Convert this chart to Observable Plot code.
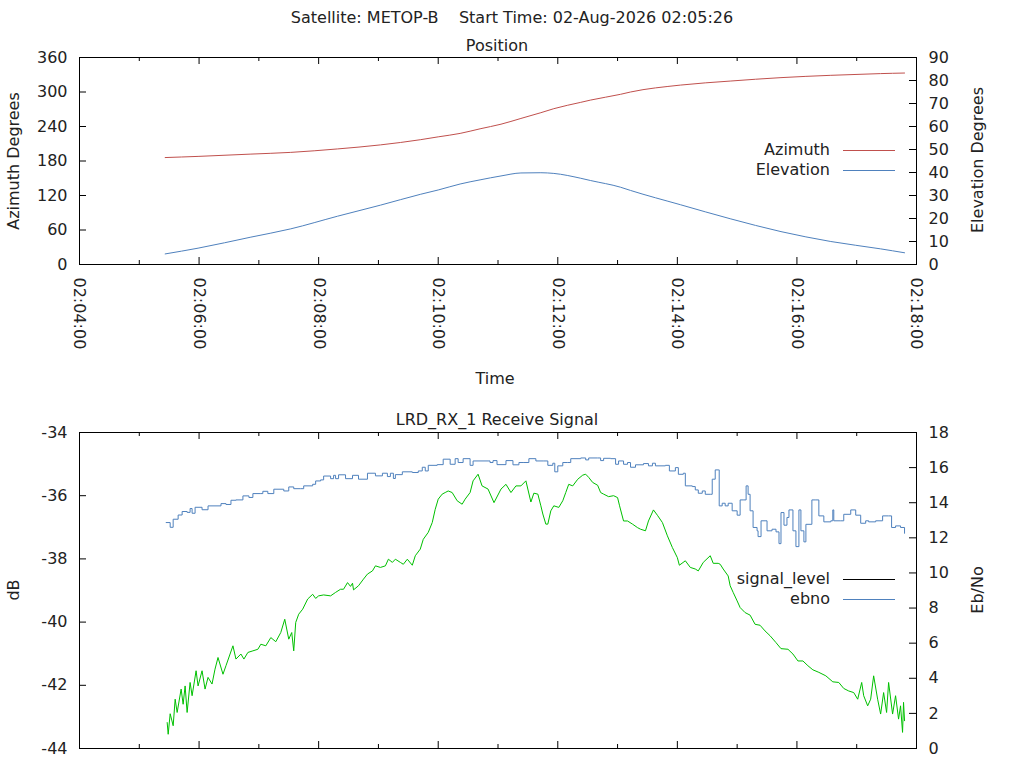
<!DOCTYPE html>
<html>
<head>
<meta charset="utf-8">
<script src="https://cdn.jsdelivr.net/npm/d3@7"></script>
<script src="https://cdn.jsdelivr.net/npm/@observablehq/plot@0.6"></script>
<style>
  body { margin: 0; background: #fff; }
  #wrap { position: relative; width: 1024px; height: 768px; overflow: hidden; background: #fff;
          font-family: "DejaVu Sans", sans-serif; color: #222; }
  #wrap svg { display: block; }
  .lbl { position: absolute; white-space: pre; font-size: 16px; line-height: 18px; }
  .legline { position: absolute; height: 1px; width: 52px; }
</style>
</head>
<body>
<div id="wrap"></div>
<script>
// ---------- data ----------
const mainTitle = "Satellite: METOP-B    Start Time: 02-Aug-2026 02:05:26";
const topTitle = "Position";
const bottomTitle = "LRD_RX_1 Receive Signal";

const timeLabels = ["02:04:00","02:06:00","02:08:00","02:10:00","02:12:00","02:14:00","02:16:00","02:18:00"];
const minorTimes = ["02:05:00","02:07:00","02:09:00","02:11:00","02:13:00","02:15:00","02:17:00"];
const azTicks = [0, 60, 120, 180, 240, 300, 360];
const elTicks = [0, 10, 20, 30, 40, 50, 60, 70, 80, 90];
const dbTicks = [-44, -42, -40, -38, -36, -34];
const ebnoTicks = [0, 2, 4, 6, 8, 10, 12, 14, 16, 18];

const posTime = ["02:05:26","02:05:59","02:06:52","02:07:32","02:08:19","02:09:02","02:09:42","02:10:00","02:10:22","02:10:42","02:11:03","02:11:23","02:11:43","02:11:56","02:12:23","02:12:33","02:13:03","02:13:13","02:14:03","02:14:53","02:15:44","02:16:34","02:17:24","02:17:48"];
const azimuth = [186,188,192,195,201,208,217,222,228,236,244,254,264,271,282,286,296,300,312,319,325,329,332,333];
const elevation = [4.6,7.1,11.9,15.5,21.0,25.8,30.5,32.4,35.0,36.8,38.5,39.8,39.9,39.6,37.5,36.5,33.6,32.2,26.0,19.9,14.3,10.0,6.8,5.1];

const sigTime = [
"02:05:28","02:05:29","02:05:31","02:05:34","02:05:36","02:05:38","02:05:42","02:05:44","02:05:46","02:05:48",
"02:05:51","02:05:53","02:05:57","02:05:59","02:06:03","02:06:06","02:06:09","02:06:13","02:06:16","02:06:19",
"02:06:24","02:06:27","02:06:34","02:06:37","02:06:42","02:06:45","02:06:49","02:06:54","02:06:59","02:07:02",
"02:07:07","02:07:12","02:07:17","02:07:22","02:07:26","02:07:30","02:07:33","02:07:35","02:07:37","02:07:40",
"02:07:44","02:07:49","02:07:54","02:07:57","02:08:00","02:08:05","02:08:12","02:08:17","02:08:22","02:08:25",
"02:08:29","02:08:32","02:08:34","02:08:35","02:08:40","02:08:45","02:08:49","02:08:54","02:08:57","02:09:02",
"02:09:07","02:09:10","02:09:14","02:09:17","02:09:22","02:09:25","02:09:29","02:09:34","02:09:37","02:09:42",
"02:09:45","02:09:50","02:09:54","02:09:57","02:10:00","02:10:04","02:10:07","02:10:10","02:10:14","02:10:19",
"02:10:24","02:10:27","02:10:32","02:10:35","02:10:40","02:10:44","02:10:50","02:10:56","02:11:03","02:11:08",
"02:11:13","02:11:18","02:11:23","02:11:28","02:11:33","02:11:36","02:11:40","02:11:43","02:11:45","02:11:48",
"02:11:50","02:11:53","02:11:56","02:12:01","02:12:05","02:12:08","02:12:11","02:12:15","02:12:20","02:12:25",
"02:12:28","02:12:31","02:12:35","02:12:40","02:12:43","02:12:46","02:12:51","02:12:56","02:13:00","02:13:02",
"02:13:06","02:13:10","02:13:15","02:13:20","02:13:23","02:13:28","02:13:31","02:13:36","02:13:40","02:13:45",
"02:13:50","02:13:55","02:14:00","02:14:02","02:14:08","02:14:13","02:14:18","02:14:21","02:14:26","02:14:33",
"02:14:36","02:14:41","02:14:43","02:14:46","02:14:51","02:14:53","02:14:56","02:15:00","02:15:03","02:15:08",
"02:15:13","02:15:18","02:15:23","02:15:28","02:15:33","02:15:39","02:15:44","02:15:51","02:15:56","02:16:01",
"02:16:06","02:16:11","02:16:16","02:16:22","02:16:29","02:16:36","02:16:42","02:16:47","02:16:52","02:16:57",
"02:17:01","02:17:05","02:17:07","02:17:11","02:17:14","02:17:17","02:17:21","02:17:24","02:17:27","02:17:30",
"02:17:32","02:17:36","02:17:39","02:17:42","02:17:44","02:17:46","02:17:47","02:17:48"];
const sigLevel = [
-43.18,-43.55,-42.90,-43.28,-42.44,-42.86,-42.12,-42.60,-42.02,-42.86,
-41.91,-42.33,-41.54,-42.02,-41.54,-42.12,-41.75,-41.96,-41.49,-41.12,
-41.65,-41.38,-40.75,-41.17,-41.01,-41.17,-40.96,-40.91,-40.86,-40.70,
-40.75,-40.49,-40.62,-40.33,-39.91,-40.54,-40.33,-40.91,-40.01,-39.75,
-39.59,-39.27,-39.12,-39.25,-39.17,-39.14,-39.17,-39.06,-38.96,-38.96,
-38.75,-38.87,-38.77,-38.98,-38.85,-38.64,-38.48,-38.38,-38.22,-38.27,
-38.22,-38.01,-38.11,-38.01,-38.11,-38.17,-38.01,-38.20,-37.90,-37.69,
-37.38,-37.16,-36.85,-36.43,-36.11,-35.95,-35.90,-35.85,-35.90,-36.16,
-36.27,-36.11,-35.90,-35.53,-35.32,-35.69,-35.79,-36.22,-35.79,-35.64,
-35.90,-35.69,-35.69,-35.53,-36.20,-35.92,-35.95,-36.32,-36.58,-36.90,
-36.90,-36.48,-36.32,-36.37,-36.16,-35.90,-35.64,-35.69,-35.48,-35.35,
-35.32,-35.42,-35.58,-35.67,-35.90,-35.95,-36.03,-36.00,-36.06,-36.32,
-36.80,-36.80,-36.90,-37.01,-37.06,-37.11,-36.80,-36.45,-36.62,-36.85,
-37.27,-37.64,-37.96,-38.20,-38.06,-38.27,-38.32,-38.38,-38.11,-37.90,
-38.14,-38.14,-38.17,-38.32,-38.54,-38.85,-39.06,-39.33,-39.54,-39.70,
-39.78,-40.07,-40.10,-40.28,-40.43,-40.65,-40.84,-40.86,-41.01,-41.23,
-41.23,-41.38,-41.51,-41.59,-41.70,-41.89,-41.91,-42.10,-42.18,-42.23,
-42.44,-41.91,-42.33,-42.65,-42.44,-41.70,-42.44,-42.91,-42.23,-42.86,
-41.91,-42.91,-42.33,-43.07,-42.65,-43.49,-42.54,-43.12];

const ebnoTime = [
"02:05:27","02:05:31","02:05:34","02:05:39","02:05:43","02:05:48","02:05:51","02:05:53","02:05:56","02:06:03",
"02:06:09","02:06:22","02:06:27","02:06:32","02:06:37","02:06:44","02:06:50","02:06:54","02:07:02","02:07:04",
"02:07:09","02:07:15","02:07:25","02:07:30","02:07:35","02:07:42","02:07:45","02:07:54","02:07:57","02:08:02",
"02:08:05","02:08:12","02:08:15","02:08:17","02:08:20","02:08:27","02:08:34","02:08:40","02:08:49","02:08:57",
"02:09:04","02:09:09","02:09:12","02:09:15","02:09:17","02:09:24","02:09:34","02:09:40","02:09:44","02:09:47",
"02:09:50","02:09:59","02:10:05","02:10:12","02:10:17","02:10:20","02:10:25","02:10:32","02:10:35","02:10:50",
"02:10:52","02:10:55","02:10:59","02:11:08","02:11:15","02:11:21","02:11:26","02:11:31","02:11:38","02:11:46",
"02:11:50","02:11:55","02:11:57","02:12:00","02:12:05","02:12:10","02:12:13","02:12:23","02:12:28","02:12:31",
"02:12:40","02:12:43","02:12:46","02:12:53","02:12:58","02:13:01","02:13:06","02:13:10","02:13:13","02:13:18",
"02:13:26","02:13:31","02:13:35","02:13:38","02:13:48","02:13:52","02:13:58","02:14:01","02:14:06","02:14:08",
"02:14:15","02:14:18","02:14:21","02:14:25","02:14:28","02:14:33","02:14:35","02:14:38","02:14:41","02:14:42",
"02:14:45","02:14:48","02:14:51","02:14:55","02:15:00","02:15:03","02:15:06","02:15:09","02:15:11","02:15:13",
"02:15:16","02:15:20","02:15:21","02:15:24","02:15:28","02:15:30","02:15:35","02:15:39","02:15:42","02:15:44",
"02:15:47","02:15:50","02:15:52","02:15:56","02:15:59","02:16:02","02:16:04","02:16:07","02:16:09","02:16:15",
"02:16:19","02:16:22","02:16:27","02:16:34","02:16:36","02:16:37","02:16:44","02:16:47","02:16:54","02:16:59",
"02:17:04","02:17:09","02:17:12","02:17:19","02:17:26","02:17:32","02:17:35","02:17:39","02:17:44","02:17:48"];
const ebnoLevel = [
12.87,12.60,13.06,13.30,13.50,13.45,13.67,13.40,13.74,13.60,
13.82,13.95,13.90,14.14,14.16,14.39,14.30,14.52,14.52,14.65,
14.52,14.77,14.67,14.90,14.80,14.80,14.96,15.05,15.24,15.30,
15.52,15.37,15.56,15.37,15.59,15.37,15.56,15.34,15.68,15.53,
15.68,15.49,15.68,15.38,15.60,15.76,15.72,15.81,16.02,15.81,
16.13,16.17,16.48,16.19,16.51,16.29,16.51,16.13,16.38,16.38,
16.29,16.40,16.17,16.40,16.16,16.29,16.29,16.51,16.38,16.38,
16.13,16.25,15.76,16.10,16.29,16.29,16.51,16.55,16.44,16.55,
16.55,16.40,16.53,16.51,16.19,16.38,16.19,16.29,16.02,16.16,
16.23,16.10,16.25,16.10,16.13,15.81,16.00,15.62,15.68,14.96,
14.92,14.73,14.54,14.67,14.48,14.48,15.34,15.87,15.87,13.82,
13.97,13.82,13.97,13.54,13.29,14.16,14.16,14.96,14.48,13.54,
12.59,12.40,12.07,12.97,12.97,12.40,12.49,12.34,11.67,13.44,
12.72,13.16,13.59,12.40,11.50,13.59,12.40,11.77,12.77,14.16,
14.16,13.25,12.91,12.97,13.59,12.97,12.97,13.34,13.59,13.29,
12.83,12.97,12.91,12.97,13.25,13.25,12.59,12.68,12.59,12.26];

// ---------- styling ----------
const RED = "#c0504d", BLUE = "#4f81bd", GREEN = "#00c000", INK = "#222";
const FONT = '"DejaVu Sans", sans-serif';
const W = 1024, mL = 79, mR = 108;
const plotW = W - mL - mR;

const day = "2026-08-02";
const toDate = s => new Date(`${day}T${s}Z`);
const xDomain = [toDate(timeLabels[0]), toDate(timeLabels[timeLabels.length - 1])];
const majorDates = timeLabels.map(toDate);
const minorDates = minorTimes.map(toDate);
const fmt = d3.utcFormat("%H:%M:%S");
const plain = v => String(v); // hyphen-minus, as in the reference

const posRows = posTime.map((t, i) => ({t: toDate(t), az: azimuth[i], el: elevation[i]}));
const sigRows = sigTime.map((t, i) => ({t: toDate(t), v: sigLevel[i]}));
const ebnoRows = ebnoTime.map((t, i) => ({t: toDate(t), e: ebnoLevel[i]}));

// right-axis mappings onto the left scales
const elToAz = v => v * 360 / 90;
const ebToDb = v => -44 + v * 10 / 18;
const dbToEb = v => Math.round((v + 44) * 18 / 10);

function xTicks(frameH) {
  return [
    Plot.tickX(majorDates, {x: d => d, insetTop: frameH - 7, stroke: "#000"}),
    Plot.tickX(majorDates, {x: d => d, insetBottom: frameH - 7, stroke: "#000"}),
    Plot.tickX(minorDates, {x: d => d, insetTop: frameH - 4, stroke: "#000"}),
    Plot.tickX(minorDates, {x: d => d, insetBottom: frameH - 4, stroke: "#000"})
  ];
}

// ---------- top panel ----------
const topH = 400, topMT = 57, topMB = 136, topFH = topH - topMT - topMB;
const topPlot = Plot.plot({
  width: W, height: topH, marginLeft: mL, marginRight: mR, marginTop: topMT, marginBottom: topMB,
  style: {fontFamily: FONT, fontSize: "16px", color: INK, background: "transparent"},
  x: {type: "utc", domain: xDomain, axis: null},
  y: {domain: [0, 360], axis: null},
  marks: [
    Plot.line(posRows, {x: "t", y: "az", stroke: RED, strokeWidth: 1, curve: "monotone-x"}),
    Plot.line(posRows, {x: "t", y: d => elToAz(d.el), stroke: BLUE, strokeWidth: 1, curve: "monotone-x"}),
    Plot.frame({stroke: "#000"}),
    Plot.tickY(azTicks, {y: d => d, insetRight: plotW - 7, stroke: "#000"}),
    Plot.tickY(elTicks.map(elToAz), {y: d => d, insetLeft: plotW - 7, stroke: "#000"}),
    ...xTicks(topFH),
    Plot.axisY({ticks: azTicks, tickFormat: plain, anchor: "left", tickSize: 0, tickPadding: 12, label: null}),
    Plot.axisY({ticks: elTicks.map(elToAz), tickFormat: v => String(Math.round(v / 4)), anchor: "right", tickSize: 0, tickPadding: 12, label: null}),
    Plot.axisX({ticks: majorDates, tickFormat: fmt, anchor: "bottom", tickRotate: 90, tickSize: 0, tickPadding: 13, label: null})
  ]
});

// ---------- bottom panel ----------
const botH = 368, botMT = 32, botMB = 20, botFH = botH - botMT - botMB;
const botPlot = Plot.plot({
  width: W, height: botH, marginLeft: mL, marginRight: mR, marginTop: botMT, marginBottom: botMB,
  style: {fontFamily: FONT, fontSize: "16px", color: INK, background: "transparent"},
  x: {type: "utc", domain: xDomain, axis: null},
  y: {domain: [-44, -34], axis: null},
  marks: [
    Plot.line(ebnoRows, {x: "t", y: d => ebToDb(d.e), stroke: BLUE, strokeWidth: 1, curve: "step-after"}),
    Plot.line(sigRows, {x: "t", y: "v", stroke: GREEN, strokeWidth: 1}),
    Plot.frame({stroke: "#000"}),
    Plot.tickY(dbTicks, {y: d => d, insetRight: plotW - 7, stroke: "#000"}),
    Plot.tickY(ebnoTicks.map(ebToDb), {y: d => d, insetLeft: plotW - 7, stroke: "#000"}),
    ...xTicks(botFH),
    Plot.axisY({ticks: dbTicks, tickFormat: plain, anchor: "left", tickSize: 0, tickPadding: 12, label: null}),
    Plot.axisY({ticks: ebnoTicks.map(ebToDb), tickFormat: v => String(dbToEb(v)), anchor: "right", tickSize: 0, tickPadding: 12, label: null})
  ]
});

const wrap = document.getElementById("wrap");
wrap.appendChild(topPlot);
wrap.appendChild(botPlot);

// ---------- text overlays ----------
function label(text, cx, cy, rotate) {
  const d = document.createElement("div");
  d.className = "lbl";
  d.textContent = text;
  d.style.left = cx + "px";
  d.style.top = cy + "px";
  d.style.transform = "translate(-50%,-50%)" + (rotate ? " rotate(-90deg)" : "");
  wrap.appendChild(d);
}
function legend(text, cy, color) {
  const d = document.createElement("div");
  d.className = "lbl";
  d.textContent = text;
  d.style.right = (W - 830) + "px";
  d.style.top = (cy - 9) + "px";
  wrap.appendChild(d);
  const l = document.createElement("div");
  l.className = "legline";
  l.style.left = "843px";
  l.style.top = cy + "px";
  l.style.background = color;
  wrap.appendChild(l);
}

label(mainTitle, 512, 18);
label(topTitle, 497, 46);
label("Azimuth Degrees", 14, 161, true);
label("Elevation Degrees", 978, 160, true);
label("Time", 495, 379);
label(bottomTitle, 497, 420);
label("dB", 14, 590, true);
label("Eb/No", 978, 590, true);

legend("Azimuth", 150, RED);
legend("Elevation", 170, BLUE);
legend("signal_level", 579, "#000");
legend("ebno", 599, BLUE);
</script>
</body>
</html>
